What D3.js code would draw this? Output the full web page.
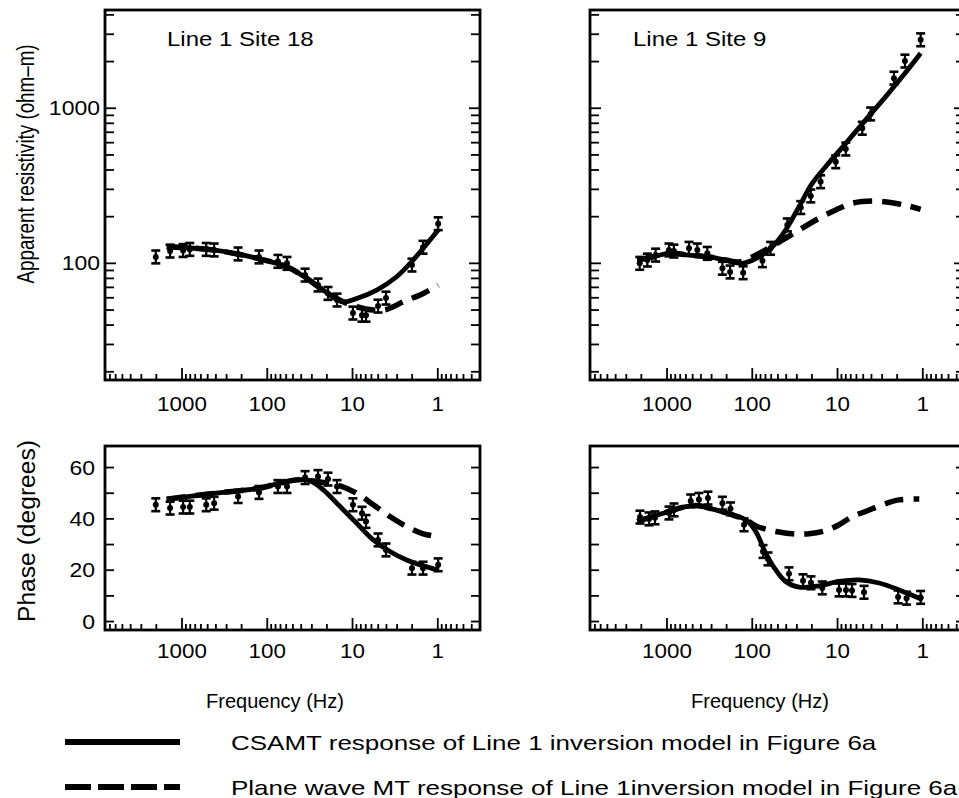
<!DOCTYPE html>
<html>
<head>
<meta charset="utf-8">
<script src="https://cdn.jsdelivr.net/npm/d3@7"></script>
<style>
  body { margin: 0; background: #fff; }
  svg { display: block; }
  text { font-family: "Liberation Sans", Arial, Helvetica, sans-serif; fill: #000; }
</style>
</head>
<body>
<svg id="chart" width="959" height="798"></svg>
<script>
// ---- tick labels ----
const freqTickLabels = [1000, 100, 10, 1];
const rhoTickLabels = [1000, 100];
const phaseTickLabels = [0, 20, 40, 60];
const phaseMinorTicks = [0, 10, 20, 30, 40, 50, 60];

// ---- Site 18 observations (shared frequencies, Hz) ----
const site18Freq  = [2030, 1380, 970, 810, 520, 420, 220, 125, 75, 58.7, 36, 25.4, 19.4, 15.2, 9.9, 7.75, 6.95, 5.02, 4.05, 2.01, 1.49, 0.99];
const site18Rho   = [110, 120, 121, 123, 123, 122, 115, 110, 103, 100, 84, 72.5, 64, 58, 47.8, 46.3, 46.3, 53, 59.7, 97.5, 127, 180];
const site18Phase = [45.5, 44.2, 44.6, 44.6, 45.5, 46.1, 48.7, 50.3, 52.6, 52.6, 56.1, 56.5, 55.5, 52.6, 45.5, 42.2, 39, 31.8, 27.9, 20.8, 20.8, 22.1];

// ---- Site 9 observations ----
const site9RhoFreq = [2090, 1700, 1360, 948, 830, 552, 441, 337, 224, 182, 128, 76, 61, 38.8, 27, 20.6, 15.8, 10.5, 8.0, 5.13, 4.09, 2.18, 1.62, 1.06];
const site9Rho     = [100, 105, 113, 122, 120, 125, 122, 116, 93, 88, 87, 104, 125, 177, 229, 272, 336, 452, 546, 743, 919, 1563, 2014, 2762];
const site9PhaseFreq = [2073, 1626, 1383, 948, 828, 527, 422, 331, 224, 180, 125, 74.8, 65.4, 37.1, 25.4, 20.5, 15.1, 9.6, 7.96, 6.76, 4.89, 1.95, 1.55, 1.06];
const site9Phase     = [40.7, 40, 40.4, 42.3, 43.5, 47.0, 47.6, 48.1, 46.1, 43.9, 37.7, 27.3, 24.4, 18.6, 15.9, 15.1, 13.1, 12.3, 12.3, 12.1, 11.4, 9.6, 9.1, 9.4];

// error bars: relative for resistivity, degrees for phase
const rhoRelErr = 0.10;
const phaseErr = 2.5;

// ---- model responses [frequency, value] ----
const site18RhoCsamt = [[1510,128],[433,122],[133,108],[59,95],[34.5,80],[22.2,67.3],[12.9,56.5],[8.93,59.4],[5.2,67.3],[3.04,82],[1.95,105],[0.99,164]];
const site18RhoPlane = [[1510,128],[433,122],[133,108],[59,95],[34.5,80],[22.2,67.3],[12.9,56.5],[8.93,52.5],[5.71,50],[3.97,50.5],[2.54,56.5],[1.48,64],[0.99,72.4]];
const site18PhaseCsamt = [[1513,47.7],[513,49.6],[209,51.0],[122,52.0],[71,53.9],[45.2,55.2],[31.5,54.9],[22,51.3],[14,44.8],[8.93,38.3],[5.71,31.8],[3.64,27.3],[2.32,24.0],[1.48,21.7],[0.99,20.1]];
const site18PhasePlane = [[1513,47.7],[513,49.6],[209,51.0],[122,52.0],[71,53.9],[45.2,55.2],[31.5,55.0],[20,54],[14,52.9],[8.93,50.0],[5.71,45.5],[3.64,40.9],[2.32,37.0],[1.48,34.2],[0.99,33.1]];

const site9RhoCsamt = [[2230,105],[1487,110],[948,116],[552,113],[321,110],[205,105],[131,100],[83.4,110],[58.2,128],[40.6,164],[28.3,232],[19.8,328],[13.8,420],[8.0,594],[4.68,841],[2.72,1189],[1.74,1600],[1.06,2265]];
const site9RhoPlane = [[2230,105],[1487,110],[948,116],[552,113],[321,110],[205,105],[143,102],[100,110],[69.7,122],[44.5,141],[28.3,164],[16.5,195],[10.5,221],[6.71,244],[3.92,252],[2.29,246],[1.46,234],[1.06,223]];
const site9PhaseCsamt = [[2230,39.0],[1487,40.9],[948,42.9],[604,44.8],[422,45.1],[269,43.5],[171,41.6],[119,39.6],[91,35.1],[69.5,26.6],[53,20.1],[40.6,15.6],[28.3,13.4],[16.5,13.9],[9.6,15.6],[5.6,16.2],[3.26,15.0],[1.90,12.3],[1.0,8.5]];
const site9PhasePlane = [[2230,39.0],[1487,40.9],[948,42.9],[604,44.8],[422,45.1],[269,43.5],[171,41.6],[119,39.6],[87.3,37.0],[69.5,36.0],[53,35.1],[34,34.2],[21.6,34.2],[13.8,35.4],[9.6,37.7],[6.7,40.9],[4.68,42.9],[2.98,45.5],[1.9,47.4],[1.1,47.7]];

// ---- text ----
const titles = ["Line 1 Site 18", "Line 1 Site 9"];
const xTitle = "Frequency (Hz)";
const rhoTitle = "Apparent resistivity (ohm\u2013m)";
const phaseTitle = "Phase (degrees)";
const legendLabels = ["CSAMT response of Line 1 inversion model in Figure 6a",
                      "Plane wave MT response of Line 1inversion model in Figure 6a"];

// ---- layout ----
const freqDomain = [8000, 0.32];
const rhoDomain = [17.7, 4300];
const phaseDomain = [-3.3, 68.4];
const cols = [{x0: 105, x1: 480}, {x0: 590, x1: 965}];
const rows = {rho: {y0: 10, y1: 380}, phase: {y0: 446, y1: 630}};

const svg = d3.select("#chart");

// text with a horizontal glyph stretch sx
function label(g, x, y, str, anchor, size, sx, rotate) {
  return g.append("text")
    .attr("transform", `translate(${x},${y}) scale(${sx},1)` + (rotate ? " rotate(-90)" : ""))
    .attr("text-anchor", anchor)
    .style("font-size", size + "px")
    .text(str);
}

function isDecade(v) {
  const l = Math.log10(v);
  return Math.abs(l - Math.round(l)) < 1e-9;
}

function drawPanel(cfg) {
  const col = cols[cfg.col];
  const row = rows[cfg.kind];
  const g = svg.append("g");

  const x = d3.scaleLog().domain(freqDomain).range([col.x0, col.x1]);
  const y = cfg.kind === "rho"
    ? d3.scaleLog().domain(rhoDomain).range([row.y1, row.y0])
    : d3.scaleLinear().domain(phaseDomain).range([row.y1, row.y0]);

  // frequency ticks along the bottom edge
  const xt = x.ticks().filter(t => x(t) > col.x0 + 1 && x(t) < col.x1 - 1);
  g.append("g").selectAll("line").data(xt).join("line")
    .attr("x1", d => x(d)).attr("x2", d => x(d))
    .attr("y1", row.y1).attr("y2", d => row.y1 - (isDecade(d) ? 12 : 6))
    .attr("stroke", "#000").attr("stroke-width", 1.8);

  // value ticks on both sides
  const yt = cfg.kind === "rho"
    ? y.ticks().filter(t => y(t) > row.y0 + 2 && y(t) < row.y1 - 2)
    : phaseMinorTicks;
  [[col.x0, 1], [col.x1, -1]].forEach(([sx, dir]) => {
    g.append("g").selectAll("line").data(yt).join("line")
      .attr("x1", sx).attr("x2", d => sx + dir * ((cfg.kind === "rho" && isDecade(d)) ? 11 : 9))
      .attr("y1", d => y(d)).attr("y2", d => y(d))
      .attr("stroke", "#000").attr("stroke-width", 1.8);
  });

  // frame
  g.append("rect")
    .attr("x", col.x0).attr("y", row.y0)
    .attr("width", col.x1 - col.x0).attr("height", row.y1 - row.y0)
    .attr("fill", "none").attr("stroke", "#000").attr("stroke-width", 2.8);

  // frequency tick labels
  const labelY = cfg.kind === "rho" ? row.y1 + 31 : row.y1 + 28;
  freqTickLabels.forEach(t => label(g, x(t), labelY, String(t), "middle", 20, 1.12));

  // value tick labels (left column only)
  if (cfg.col === 0) {
    const isRho = cfg.kind === "rho";
    const vals = isRho ? rhoTickLabels : phaseTickLabels;
    vals.forEach(v => label(g, col.x0 - (isRho ? 5 : 10), y(v) + 7, String(v), "end", 20, 1.15));
  }

  // model curves
  const line = d3.line()
    .x(d => x(d[0])).y(d => y(d[1]))
    .curve(d3.curveCatmullRom.alpha(0.5));
  g.append("path").datum(cfg.plane).attr("d", line)
    .attr("fill", "none").attr("stroke", "#000").attr("stroke-width", 5.5)
    .attr("stroke-dasharray", "19,10");
  g.append("path").datum(cfg.csamt).attr("d", line)
    .attr("fill", "none").attr("stroke", "#000").attr("stroke-width", 4.8)
    .attr("stroke-linejoin", "round");

  // observed values with error bars
  const pts = cfg.freq.map((f, i) => ({f, v: cfg.vals[i]}));
  const lo = d => cfg.kind === "rho" ? d.v / (1 + rhoRelErr) : d.v - phaseErr;
  const hi = d => cfg.kind === "rho" ? d.v * (1 + rhoRelErr) : d.v + phaseErr;
  const obs = g.append("g").selectAll("g").data(pts).join("g");
  obs.append("line")
    .attr("x1", d => x(d.f)).attr("x2", d => x(d.f))
    .attr("y1", d => y(lo(d))).attr("y2", d => y(hi(d)))
    .attr("stroke", "#000").attr("stroke-width", 2.2);
  [lo, hi].forEach(fn => {
    obs.append("line")
      .attr("x1", d => x(d.f) - 4.5).attr("x2", d => x(d.f) + 4.5)
      .attr("y1", d => y(fn(d))).attr("y2", d => y(fn(d)))
      .attr("stroke", "#000").attr("stroke-width", 2.6);
  });
  obs.append("circle")
    .attr("cx", d => x(d.f)).attr("cy", d => y(d.v)).attr("r", 3)
    .attr("fill", "#000");

  if (cfg.title) label(g, cfg.titleX, 46, cfg.title, "start", 20, 1.2);
}

drawPanel({col: 0, kind: "rho", freq: site18Freq, vals: site18Rho,
           csamt: site18RhoCsamt, plane: site18RhoPlane, title: titles[0], titleX: 167});
drawPanel({col: 1, kind: "rho", freq: site9RhoFreq, vals: site9Rho,
           csamt: site9RhoCsamt, plane: site9RhoPlane, title: titles[1], titleX: 633});
drawPanel({col: 0, kind: "phase", freq: site18Freq, vals: site18Phase,
           csamt: site18PhaseCsamt, plane: site18PhasePlane});
drawPanel({col: 1, kind: "phase", freq: site9PhaseFreq, vals: site9Phase,
           csamt: site9PhaseCsamt, plane: site9PhasePlane});

// axis titles
const titlesG = svg.append("g");
label(titlesG, 34, 164, rhoTitle, "middle", 18.8, 1.25, true);
label(titlesG, 35, 531, phaseTitle, "middle", 21, 1.1, true)
  .attr("textLength", 182).attr("lengthAdjust", "spacingAndGlyphs");
label(titlesG, 275, 708, xTitle, "middle", 20, 1.0);
label(titlesG, 760, 708, xTitle, "middle", 20, 1.0);

// legend
const legend = svg.append("g");
legend.append("line").attr("x1", 65).attr("x2", 180).attr("y1", 742).attr("y2", 742)
  .attr("stroke", "#000").attr("stroke-width", 6);
legend.append("line").attr("x1", 65).attr("x2", 180).attr("y1", 787).attr("y2", 787)
  .attr("stroke", "#000").attr("stroke-width", 6).attr("stroke-dasharray", "26,7");
label(legend, 231, 750, legendLabels[0], "start", 20, 1.3);
label(legend, 231, 795, legendLabels[1], "start", 20, 1.3);
</script>
</body>
</html>
